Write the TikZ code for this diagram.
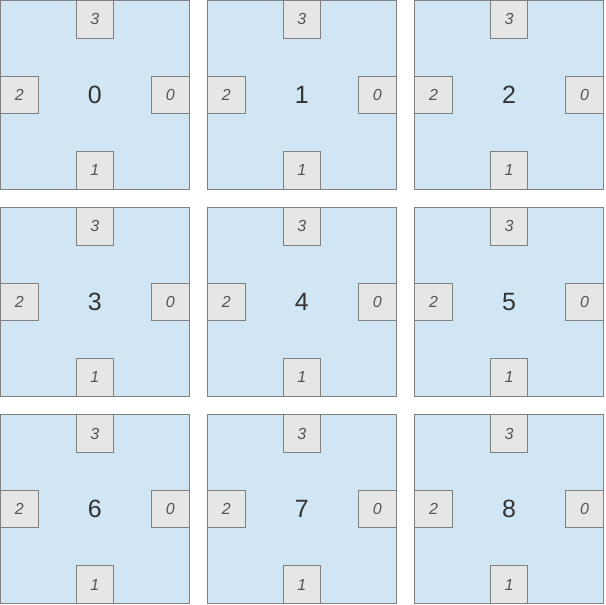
\documentclass[tikz,border=0pt]{standalone}
\usepackage{fontspec}
\setmainfont{Liberation Sans}
\definecolor{cellfill}{HTML}{D0E6F4}
\definecolor{cellline}{HTML}{808080}
\definecolor{portfill}{HTML}{E6E6E6}
\definecolor{bigtxt}{HTML}{333333}
\definecolor{smalltxt}{HTML}{555555}
\tikzset{
  cell/.style={draw=cellline, fill=cellfill, line width=1pt, minimum size=188.5pt, inner sep=0pt, text=bigtxt, font=\fontsize{25}{25}\selectfont},
  port/.style={draw=cellline, fill=portfill, line width=1pt, minimum size=37.5pt, inner sep=0pt, text=smalltxt, font=\fontsize{16}{16}\selectfont\itshape},
}
\begin{document}
\begin{tikzpicture}[x=1pt,y=-1pt]
\useasboundingbox (0,0) rectangle (605,605);
\foreach \r in {0,1,2} {
  \foreach \c in {0,1,2} {
    \pgfmathtruncatemacro{\n}{3*\r+\c}
    \pgfmathsetmacro{\cx}{94.8+207.1*\c}
    \pgfmathsetmacro{\cy}{94.8+207.1*\r}
    \node[cell] (c\n) at (\cx,\cy) {\n};
    \node[port, anchor=north] (t\n) at (c\n.north) {3};
    \node[port, anchor=south] (b\n) at (c\n.south) {1};
    \node[port, anchor=west] (l\n) at (c\n.west) {2};
    \node[port, anchor=east] (e\n) at (c\n.east) {0};
  }
}
\end{tikzpicture}
\end{document}
